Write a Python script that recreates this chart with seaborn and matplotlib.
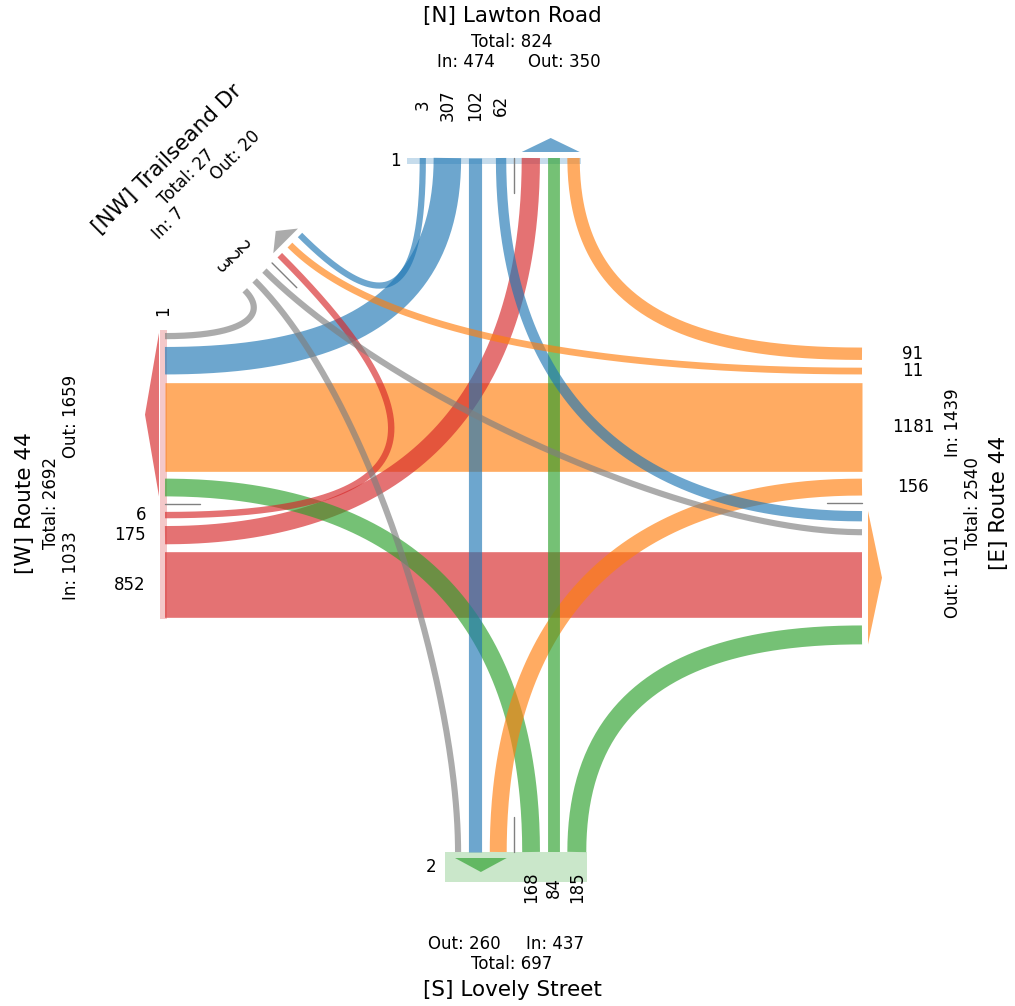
import numpy as np
import matplotlib.pyplot as plt
import seaborn as sns

# ---------------- data ----------------
approach_ids = ['N', 'NW', 'W', 'S', 'E']
approach_names = ['[N] Lawton Road', '[NW] Trailseand Dr', '[W] Route 44',
                  '[S] Lovely Street', '[E] Route 44']
approach_colors = ['tab:blue', 'tab:gray', 'tab:red', 'tab:green', 'tab:orange']
ped_counts = [1, 0, 1, 2, 0]

# turning movements (origin -> destination, vehicles)
flow_from = ['N', 'N', 'N', 'N', 'NW', 'NW', 'NW', 'W', 'W', 'W',
             'S', 'S', 'S', 'E', 'E', 'E', 'E']
flow_to = ['NW', 'W', 'S', 'E', 'W', 'S', 'E', 'NW', 'N', 'E',
           'W', 'N', 'E', 'N', 'NW', 'W', 'S']
flow_vol = [3, 307, 102, 62, 3, 2, 2, 6, 175, 852,
            168, 84, 185, 91, 11, 1181, 156]

# ---------------- layout ----------------
CENTER = np.array([512.0, 503.0])
GAP = 7.75
ALPHA = 0.65
FS_SMALL = 12
FS_TITLE = 15.5
r = np.sqrt(0.5)

vol = dict(zip(zip(flow_from, flow_to), flow_vol))
color = dict(zip(approach_ids, approach_colors))
name = dict(zip(approach_ids, approach_names))
peds = dict(zip(approach_ids, ped_counts))


def ribbon_width(key):
    if key == 'U':
        return 0.0
    return 6 + 0.07 * vol[key]


# order of segments along each edge ('U' = empty u-turn slot)
edge_order = {
    'W': [('NW', 'W'), ('N', 'W'), ('E', 'W'), ('S', 'W'), 'U',
          ('W', 'NW'), ('W', 'N'), ('W', 'E')],
    'S': [('NW', 'S'), ('N', 'S'), ('E', 'S'), 'U',
          ('S', 'W'), ('S', 'N'), ('S', 'E')],
    'NW': [('N', 'NW'), ('E', 'NW'), ('W', 'NW'), 'U',
           ('NW', 'E'), ('NW', 'S'), ('NW', 'W')],
    'E': [('E', 'N'), ('E', 'NW'), ('E', 'W'), ('E', 'S'), 'U',
          ('N', 'E'), ('NW', 'E'), ('W', 'E'), ('S', 'E')],
    'N': [('N', 'NW'), ('N', 'W'), ('N', 'S'), ('N', 'E'), 'U',
          ('W', 'N'), ('S', 'N'), ('E', 'N')],
}

edges = {
    'W': dict(origin=(165, 0), u=(0, 1), n=(1, 0), start=333),
    'S': dict(origin=(0, 852), u=(1, 0), n=(0, -1), start=455),
    'NW': dict(origin=(302.2, 232.8), u=(-r, r), n=(r, r), start=0),
    'E': dict(origin=(862, 0), u=(0, 1), n=(-1, 0), align='W', middle='forward'),
    'N': dict(origin=(0, 158), u=(1, 0), n=(0, 1), align='S', middle='backward'),
}

edge_style = {
    'N': dict(lab_off=53, lab_rot=90, lab_ha='center', title_rot=0, lat=(46, 52),
              bar=(-2.5, 6, 12.7), ped_off=12, ped_rot=0),
    'NW': dict(lab_off=32, lab_rot=-45, lab_ha='center', title_rot=45, lat=(50, 45),
               bar=None),
    'W': dict(lab_off=19, lab_rot=0, lab_ha='right', title_rot=90, lat=(87, 63),
              bar=(1.5, 7, 3), ped_off=19, ped_rot=90),
    'S': dict(lab_off=35, lab_rot=90, lab_ha='center', title_rot=0, lat=(48, 43),
              bar=(15, 30, 10), ped_off=14, ped_rot=0),
    'E': dict(lab_off=51, lab_rot=0, lab_ha='center', title_rot=90, lat=(80, 73),
              bar=None),
}


def pack(order, start):
    pos, s = {}, start
    for i, k in enumerate(order):
        if i:
            s += GAP
        w = ribbon_width(k)
        pos[k] = (s, s + w)
        s += w
    return pos


def pack_aligned(order, ref, middle):
    idx = [i for i, k in enumerate(order) if k in ref]
    a0, a1 = idx[0], idx[-1]
    pos = {order[i]: ref[order[i]] for i in idx}
    s = pos[order[a0]][0]
    for k in reversed(order[:a0]):
        s -= GAP
        pos[k] = (s - ribbon_width(k), s)
        s -= ribbon_width(k)
    s = pos[order[a1]][1]
    for k in order[a1 + 1:]:
        s += GAP
        pos[k] = (s, s + ribbon_width(k))
        s += ribbon_width(k)
    mid = order[a0 + 1:a1]
    if middle == 'forward':
        s = pos[order[a0]][1]
        for k in mid:
            s += GAP
            pos[k] = (s, s + ribbon_width(k))
            s += ribbon_width(k)
    else:
        s = pos[order[a1]][0]
        for k in reversed(mid):
            s -= GAP
            pos[k] = (s - ribbon_width(k), s)
            s -= ribbon_width(k)
    return pos


positions = {}
for e in ['W', 'S', 'NW']:
    positions[e] = pack(edge_order[e], edges[e]['start'])
for e in ['E', 'N']:
    positions[e] = pack_aligned(edge_order[e], positions[edges[e]['align']],
                                edges[e]['middle'])


def edge_point(e, s, out=0.0):
    g = edges[e]
    return (np.array(g['origin'], float) + np.array(g['u'], float) * s
            - np.array(g['n'], float) * out)


def seg_center(e, key):
    a, b = positions[e][key]
    return edge_point(e, (a + b) / 2)


def bezier(p0, p1, p2, p3, n=150):
    t = np.linspace(0, 1, n)[:, None]
    return ((1 - t) ** 3 * p0 + 3 * (1 - t) ** 2 * t * p1
            + 3 * (1 - t) * t ** 2 * p2 + t ** 3 * p3)


# ---------------- drawing ----------------
sns.set_theme(style='white')
plt.rcParams['font.family'] = ['DejaVu Sans']
plt.rcParams['text.color'] = 'black'

fig = plt.figure(figsize=(10.15, 10.06), dpi=100)
ax = fig.add_axes([0, 0, 1, 1])

# big through movements first, then the turns
draw_order = sorted(range(len(flow_vol)), key=lambda i: -flow_vol[i])
for i in draw_order:
    a, b = flow_from[i], flow_to[i]
    key = (a, b)
    p0, p3 = seg_center(a, key), seg_center(b, key)
    n0, n3 = np.array(edges[a]['n'], float), np.array(edges[b]['n'], float)
    theta = np.degrees(np.arccos(np.clip(np.dot(n0, -n3), -1, 1))) / 180
    L = (0.33 - 0.74 * theta + 2 * theta ** 2) * np.linalg.norm(p3 - p0)
    # shorter handle where the chord points back behind the edge
    L0 = L if np.dot(p3 - p0, n0) >= 0 else 0.4 * L
    L3 = L if np.dot(p0 - p3, n3) >= 0 else 0.4 * L
    pts = bezier(p0, p0 + n0 * L0, p3 + n3 * L3, p3)
    sns.lineplot(x=pts[:, 0], y=pts[:, 1], sort=False, estimator=None,
                 color=color[a], alpha=ALPHA, linewidth=ribbon_width(key) * 0.72,
                 solid_capstyle='butt', ax=ax)

for e in approach_ids:
    g, st = edges[e], edge_style[e]
    u = np.array(g['u'], float)
    pos = positions[e]
    keys = [k for k in edge_order[e] if k != 'U']
    ext0 = min(pos[k][0] for k in keys)
    ext1 = max(pos[k][1] for k in keys)

    # empty u-turn slot
    su = pos['U'][0]
    p = edge_point(e, su)
    q = p + np.array(g['n'], float) * 35
    ax.plot([p[0], q[0]], [p[1], q[1]], color='#808080', lw=1.0)

    # outbound arrow
    outs = [k for k in keys if k[1] == e]
    o0 = min(pos[k][0] for k in outs)
    o1 = max(pos[k][1] for k in outs)
    tri = np.array([edge_point(e, o0, 6), edge_point(e, o1, 6),
                    edge_point(e, (o0 + o1) / 2, 20)])
    ax.fill(tri[:, 0], tri[:, 1], color=color[e], alpha=ALPHA, lw=0)

    # pedestrian bar
    if st['bar'] is not None and peds[e] > 0:
        off, th, pad = st['bar']
        b0, b1 = ext0 - pad, ext1 + 1
        poly = np.array([edge_point(e, b0, off - th / 2), edge_point(e, b1, off - th / 2),
                         edge_point(e, b1, off + th / 2), edge_point(e, b0, off + th / 2)])
        ax.fill(poly[:, 0], poly[:, 1], color=color[e], alpha=0.25, lw=0)
        lp = edge_point(e, b0 - st['ped_off'], off)
        ax.text(lp[0], lp[1], str(peds[e]), fontsize=FS_SMALL, rotation=st['ped_rot'],
                ha='center', va='center', rotation_mode='anchor')

    # inbound counts
    for k in keys:
        if k[0] != e:
            continue
        a, b = pos[k]
        lp = edge_point(e, (a + b) / 2, st['lab_off'])
        ax.text(lp[0], lp[1], str(vol[k]), fontsize=FS_SMALL, rotation=st['lab_rot'],
                ha=st['lab_ha'], va='center', rotation_mode='anchor')

    # titles and totals
    outward = -np.array(g['n'], float)
    v_in = sum(v for f, v in zip(flow_from, flow_vol) if f == e)
    v_out = sum(v for t, v in zip(flow_to, flow_vol) if t == e)
    rot = st['title_rot']
    tp = CENTER + outward * 487
    ax.text(tp[0], tp[1], name[e], fontsize=FS_TITLE, rotation=rot,
            ha='center', va='center', rotation_mode='anchor')
    tp = CENTER + outward * 461
    ax.text(tp[0], tp[1], f'Total: {v_in + v_out}', fontsize=FS_SMALL, rotation=rot,
            ha='center', va='center', rotation_mode='anchor')
    in_first = edge_order[e][0][0] == e
    texts = [f'In: {v_in}', f'Out: {v_out}']
    if not in_first:
        texts = texts[::-1]
    d1, d2 = st['lat']
    for txt, lat in zip(texts, [-d1, d2]):
        tp = CENTER + outward * 441 + u * lat
        ax.text(tp[0], tp[1], txt, fontsize=FS_SMALL, rotation=rot,
                ha='center', va='center', rotation_mode='anchor')

ax.set_xlim(0, 1015)
ax.set_ylim(1006, 0)
ax.axis('off')
fig.savefig('out.png', dpi=100)
